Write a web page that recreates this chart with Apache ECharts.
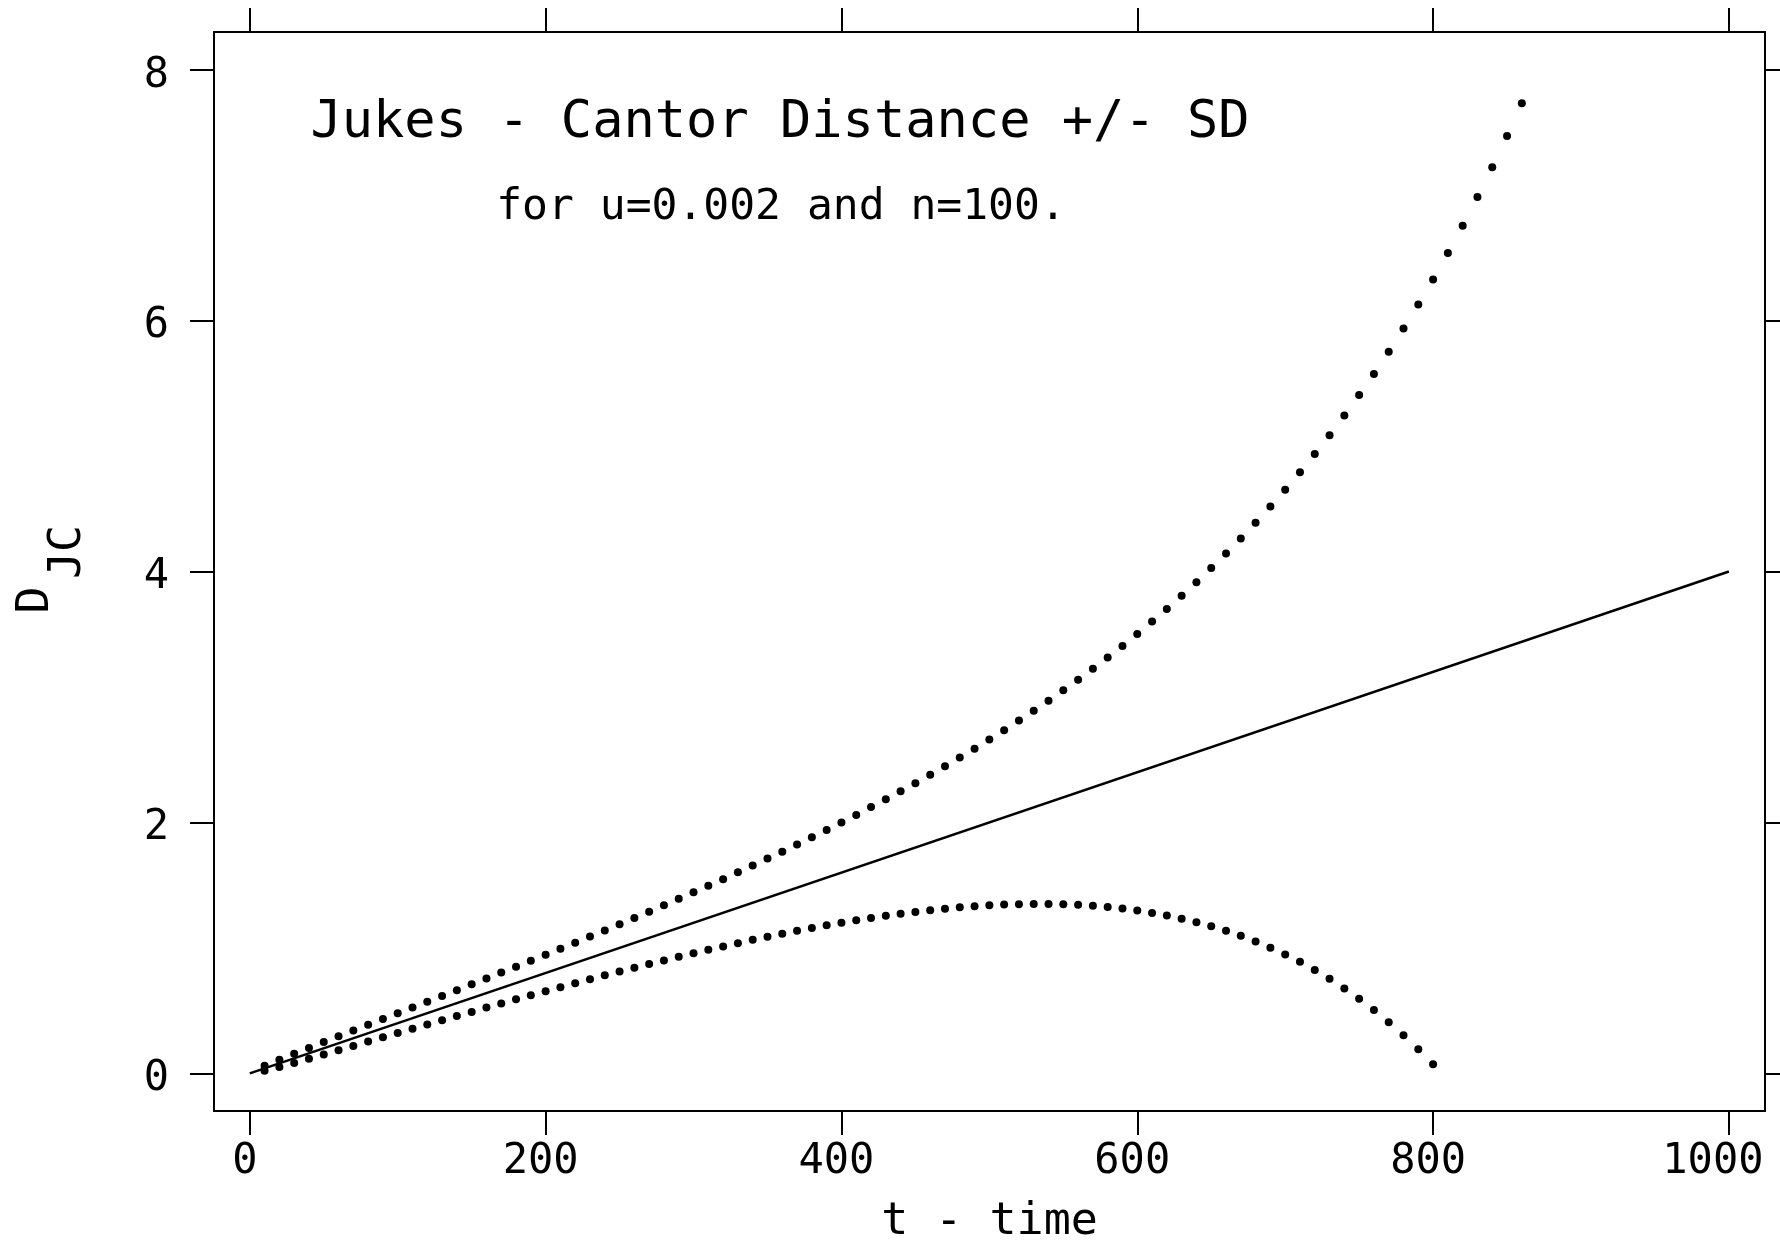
<!DOCTYPE html>
<html>
<head>
<meta charset="utf-8">
<script src="https://cdn.jsdelivr.net/npm/echarts@6/dist/echarts.min.js"></script>
<style>
html,body{margin:0;padding:0;background:#ffffff;}
#chart{width:1780px;height:1247px;}
</style>
</head>
<body>
<div id="chart"></div>
<script>
// ---- data ----
const tLine = [0, 1000];
const dLine = [0, 4];

const tDots = [10,20,30,40,50,60,70,80,90,100,110,120,130,140,150,160,170,180,190,200,
  210,220,230,240,250,260,270,280,290,300,310,320,330,340,350,360,370,380,390,400,
  410,420,430,440,450,460,470,480,490,500,510,520,530,540,550,560,570,580,590,600,
  610,620,630,640,650,660,670,680,690,700,710,720,730,740,750,760,770,780,790,800,
  810,820,830,840,850,860];

const upperSD = [0.060,0.109,0.157,0.203,0.250,0.296,0.341,0.387,0.433,0.479,
  0.525,0.571,0.617,0.663,0.710,0.756,0.803,0.850,0.898,0.945,
  0.993,1.042,1.090,1.139,1.189,1.239,1.289,1.340,1.391,1.443,
  1.495,1.548,1.602,1.656,1.712,1.767,1.824,1.882,1.940,2.000,
  2.060,2.122,2.184,2.248,2.313,2.380,2.448,2.517,2.588,2.661,
  2.735,2.812,2.890,2.970,3.053,3.137,3.225,3.314,3.407,3.502,
  3.601,3.702,3.807,3.915,4.028,4.144,4.264,4.389,4.518,4.652,
  4.791,4.936,5.086,5.243,5.406,5.575,5.752,5.936,6.128,6.328,
  6.538,6.756,6.984,7.223,7.472,7.733];

const lowerSD = [0.020,0.051,0.083,0.117,0.150,0.184,0.219,0.253,0.287,0.321,
  0.355,0.389,0.423,0.457,0.490,0.524,0.557,0.590,0.622,0.655,
  0.687,0.718,0.750,0.781,0.811,0.841,0.871,0.900,0.929,0.957,
  0.985,1.012,1.038,1.064,1.088,1.113,1.136,1.158,1.180,1.200,
  1.220,1.238,1.256,1.272,1.287,1.300,1.312,1.323,1.332,1.339,
  1.345,1.348,1.350,1.350,1.347,1.343,1.335,1.326,1.313,1.298,
  1.279,1.258,1.233,1.205,1.172,1.136,1.096,1.051,1.002,0.948,
  0.889,0.824,0.754,0.677,0.594,0.505,0.408,0.304,0.192,0.072];

const xTicks = [0, 200, 400, 600, 800, 1000];
const yTicks = [0, 2, 4, 6, 8];

const titleText = 'Jukes - Cantor Distance +/- SD';
const subtitleText = 'for u=0.002 and n=100.';
const xName = 't - time';
const yNameMain = 'D';
const yNameSub = 'JC';

// ---- chart ----
const FONT = 'DejaVu Sans Mono';
const pairs = (xs, ys) => ys.map((v, i) => [xs[i], v]);
const lastX = xTicks[xTicks.length - 1];

const chart = echarts.init(document.getElementById('chart'), null, {renderer: 'canvas'});

const tickStyle = {show: true, inside: false, length: 24, lineStyle: {color: '#000', width: 2}};
const frameLine = {show: true, onZero: false, lineStyle: {color: '#000', width: 2}};

chart.setOption({
  animation: false,
  backgroundColor: '#ffffff',
  grid: {left: 214, right: 15, top: 32, bottom: 136, show: false,
         containLabel: false, outerBoundsMode: 'none'},
  xAxis: [{
    type: 'value', position: 'bottom', min: -24.2, max: 1024.4,
    axisLine: frameLine, splitLine: {show: false},
    axisTick: Object.assign({customValues: xTicks}, tickStyle),
    axisLabel: {customValues: xTicks,
      formatter: v => (v === lastX ? '{w|' + v + '}' : String(v)), margin: 30,
      fontFamily: FONT, fontSize: 42, color: '#000', padding: [0, 10, 0, 0],
      rich: {w: {fontFamily: FONT, fontSize: 42, color: '#000', padding: [0, 22, 0, 0]}}},
    name: xName, nameLocation: 'middle', nameGap: 111,
    nameTextStyle: {fontFamily: FONT, fontSize: 45, color: '#000', verticalAlign: 'middle'}
  }, {
    type: 'value', position: 'top', min: -24.2, max: 1024.4,
    axisLine: frameLine, splitLine: {show: false},
    axisTick: Object.assign({customValues: xTicks}, tickStyle),
    axisLabel: {show: false}
  }],
  yAxis: [{
    type: 'value', position: 'left', min: -0.30, max: 8.30,
    axisLine: frameLine, splitLine: {show: false},
    axisTick: Object.assign({customValues: yTicks}, tickStyle),
    axisLabel: {customValues: yTicks, formatter: v => String(v), margin: 45,
      fontFamily: FONT, fontSize: 42, color: '#000', verticalAlign: 'top', lineHeight: 12}
  }, {
    type: 'value', position: 'right', min: -0.30, max: 8.30,
    axisLine: frameLine, splitLine: {show: false},
    axisTick: Object.assign({customValues: yTicks}, tickStyle),
    axisLabel: {show: false}
  }],
  graphic: [
    {type: 'text', x: 780, y: 123, style: {text: titleText, fontFamily: FONT, fontSize: 52,
      fill: '#000', textAlign: 'center', textVerticalAlign: 'middle'}},
    {type: 'text', x: 781, y: 208, style: {text: subtitleText, fontFamily: FONT, fontSize: 43,
      fill: '#000', textAlign: 'center', textVerticalAlign: 'middle'}},
    {type: 'text', x: 36, y: 600, rotation: Math.PI / 2, style: {text: yNameMain, fontFamily: FONT, fontSize: 45,
      fill: '#000', textAlign: 'center', textVerticalAlign: 'middle'}},
    {type: 'text', x: 68, y: 552, rotation: Math.PI / 2, style: {text: yNameSub, fontFamily: FONT, fontSize: 45,
      fill: '#000', textAlign: 'center', textVerticalAlign: 'middle'}}
  ],
  series: [{
    name: 'D_JC', type: 'line', xAxisIndex: 0, yAxisIndex: 0,
    data: pairs(tLine, dLine), showSymbol: false, symbol: 'none',
    lineStyle: {color: '#000', width: 2.5}, z: 3
  }, {
    name: 'D + SD', type: 'scatter', xAxisIndex: 0, yAxisIndex: 0,
    data: pairs(tDots, upperSD), symbol: 'circle', symbolSize: 8,
    itemStyle: {color: '#000', opacity: 1}, z: 2
  }, {
    name: 'D - SD', type: 'scatter', xAxisIndex: 0, yAxisIndex: 0,
    data: pairs(tDots, lowerSD), symbol: 'circle', symbolSize: 8,
    itemStyle: {color: '#000', opacity: 1}, z: 2
  }]
});
</script>
</body>
</html>
